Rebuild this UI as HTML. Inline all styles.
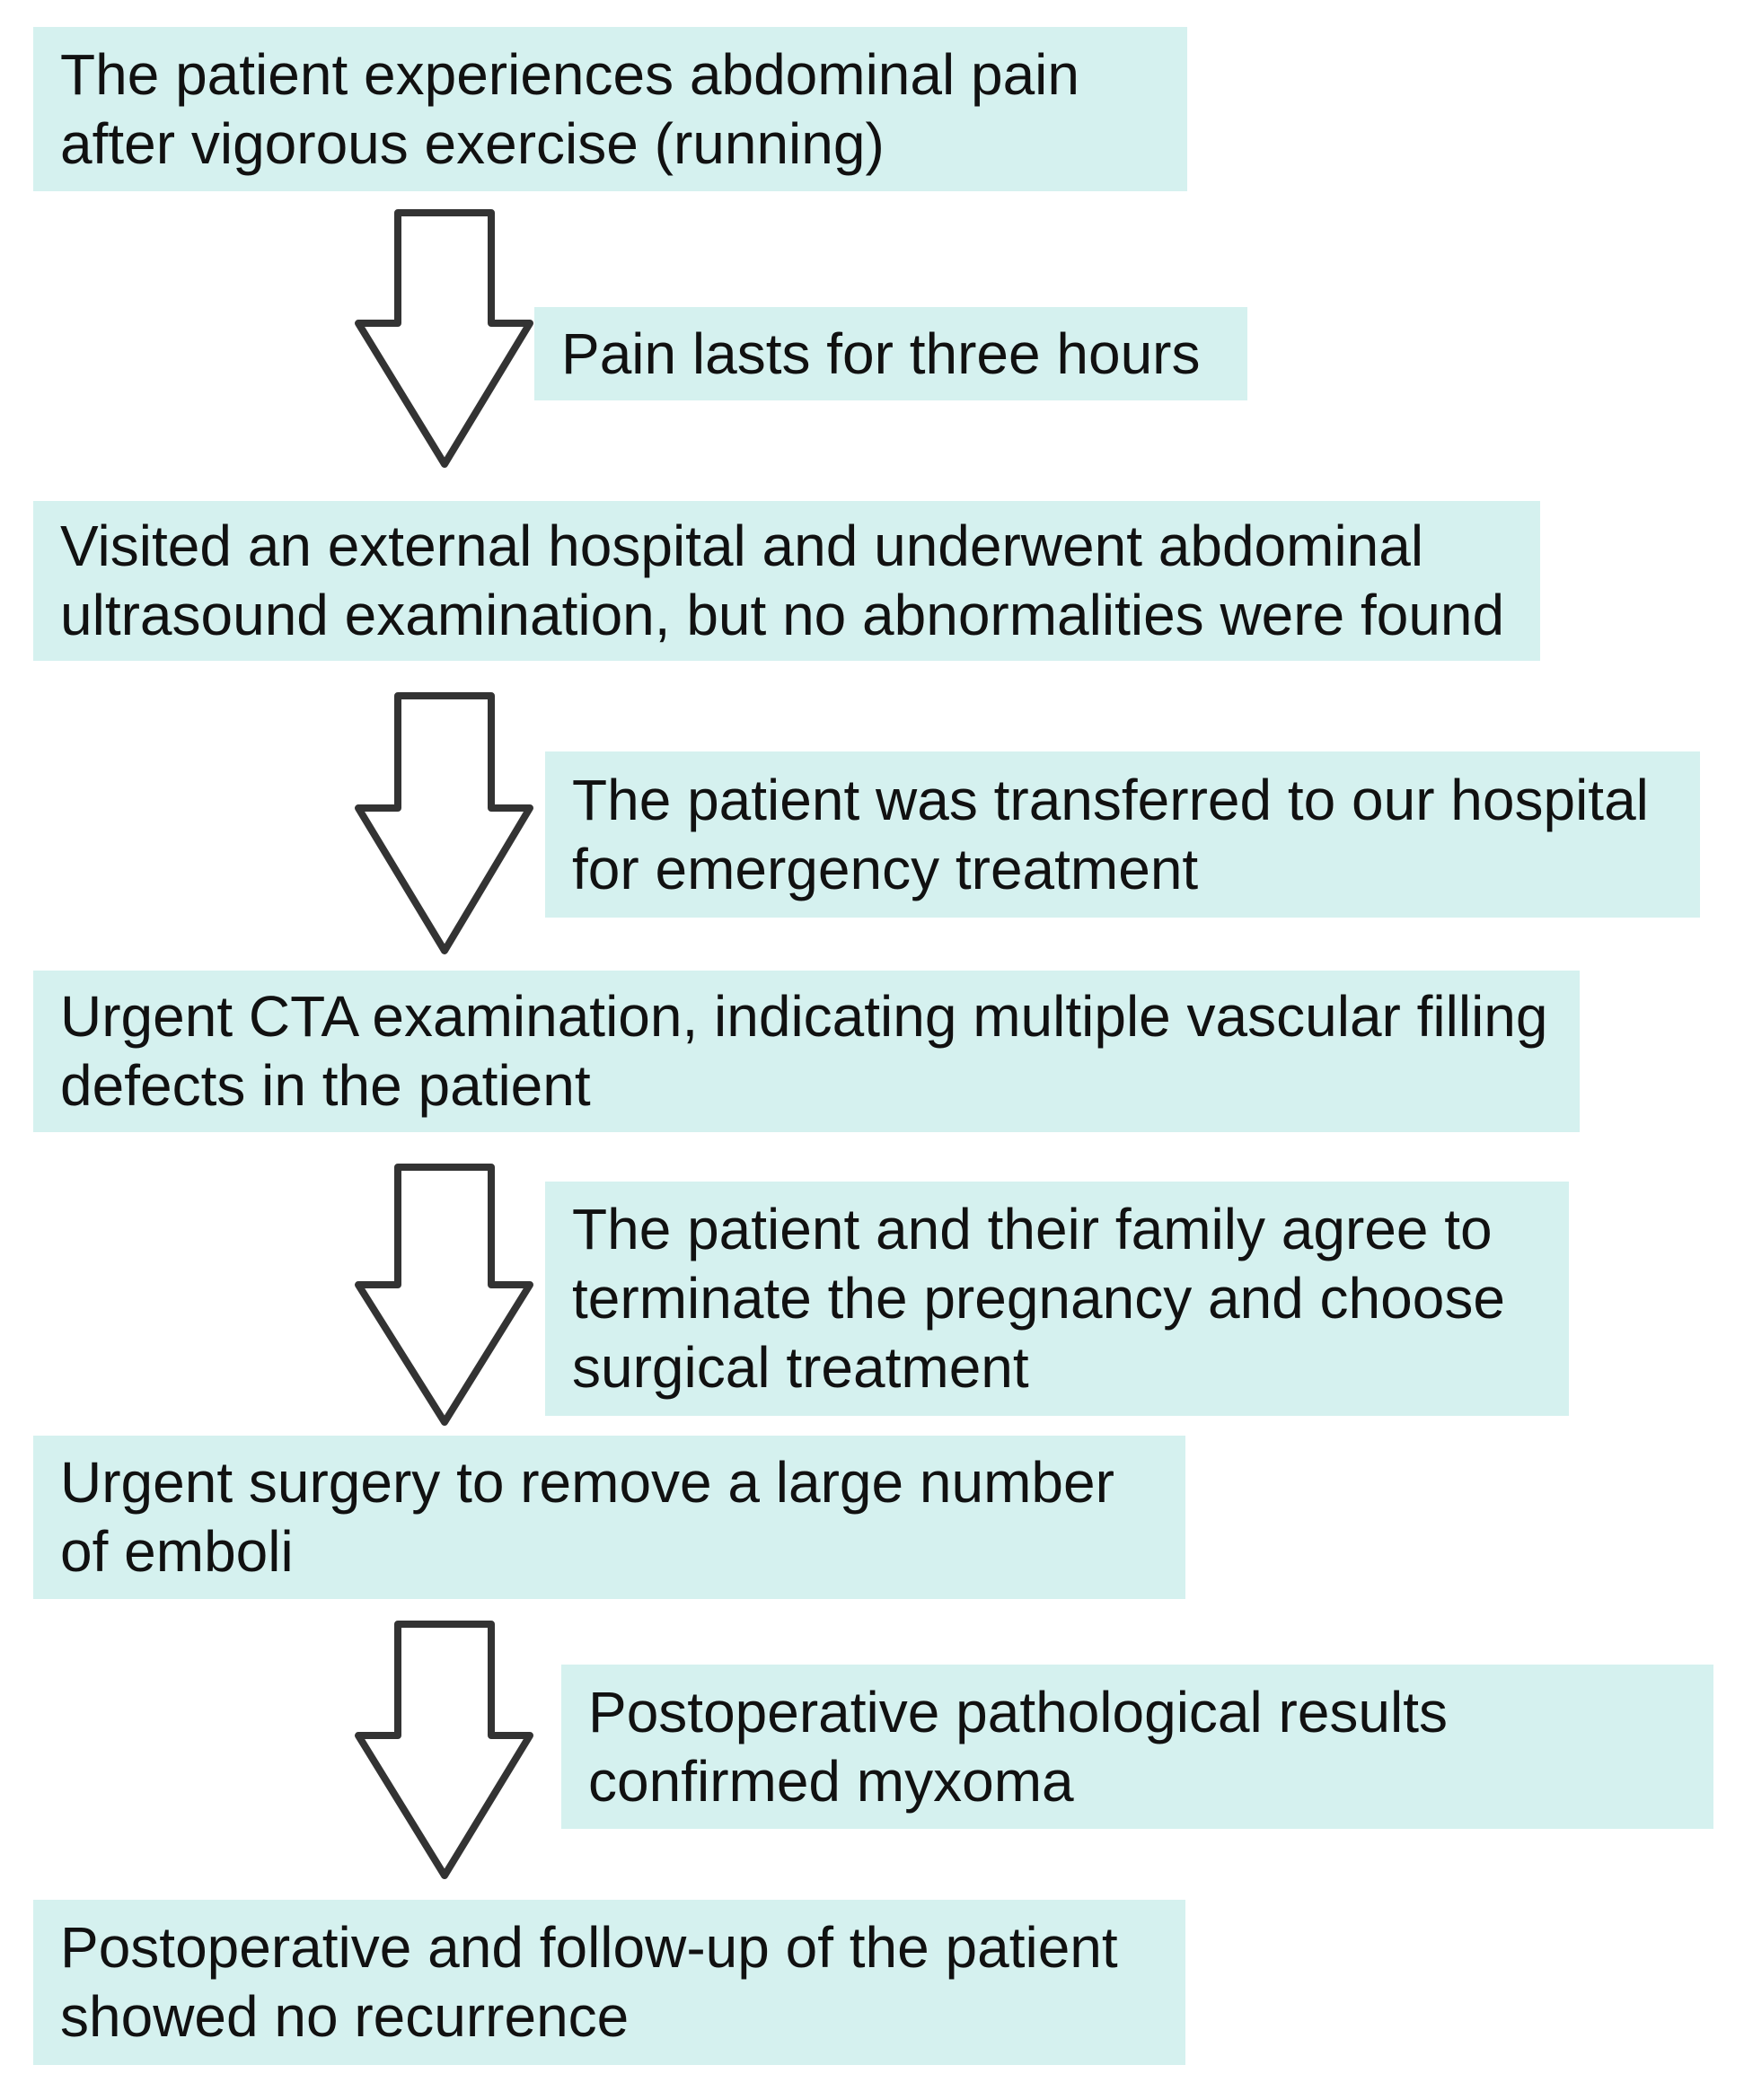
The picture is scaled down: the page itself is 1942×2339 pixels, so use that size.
<!DOCTYPE html>
<html><head><meta charset="utf-8"><style>
html,body{margin:0;padding:0;background:#fff;}
body{width:1942px;height:2339px;position:relative;overflow:hidden;font-family:"Liberation Sans",Arial,sans-serif;}
.b{position:absolute;background:#d5f1ef;display:flex;align-items:center;box-sizing:border-box;padding-left:30px;font-size:64px;line-height:77px;color:#111;}
svg{position:absolute;left:0;top:0;}
</style></head><body>
<div class="b" style="left:37px;top:30px;width:1285px;height:183px;">The patient experiences abdominal pain<br>after vigorous exercise (running)</div>
<div class="b" style="left:595px;top:342px;width:794px;height:104px;">Pain lasts for three hours</div>
<div class="b" style="left:37px;top:558px;width:1678px;height:178px;">Visited an external hospital and underwent abdominal<br>ultrasound examination, but no abnormalities were found</div>
<div class="b" style="left:607px;top:837px;width:1286px;height:185px;">The patient was transferred to our hospital<br>for emergency treatment</div>
<div class="b" style="left:37px;top:1081px;width:1722px;height:180px;">Urgent CTA examination, indicating multiple vascular filling<br>defects in the patient</div>
<div class="b" style="left:607px;top:1316px;width:1140px;height:261px;">The patient and their family agree to<br>terminate the pregnancy and choose<br>surgical treatment</div>
<div class="b" style="left:37px;top:1599px;width:1283px;height:182px;">Urgent surgery to remove a large number<br>of emboli</div>
<div class="b" style="left:625px;top:1854px;width:1283px;height:183px;">Postoperative pathological results<br>confirmed myxoma</div>
<div class="b" style="left:37px;top:2116px;width:1283px;height:184px;">Postoperative and follow-up of the patient<br>showed no recurrence</div>
<svg width="1942" height="2339" viewBox="0 0 1942 2339">
<g fill="#fff" stroke="#333" stroke-width="8" stroke-linejoin="round">
<polygon points="443,237 547,237 547,360 590,360 495,517 399,360 443,360"/>
<polygon points="443,775 547,775 547,900 590,900 495,1059 399,900 443,900"/>
<polygon points="443,1300 547,1300 547,1431 590,1431 495,1584 399,1431 443,1431"/>
<polygon points="443,1809 547,1809 547,1933 590,1933 495,2089 399,1933 443,1933"/>
</g>
</svg>
</body></html>
